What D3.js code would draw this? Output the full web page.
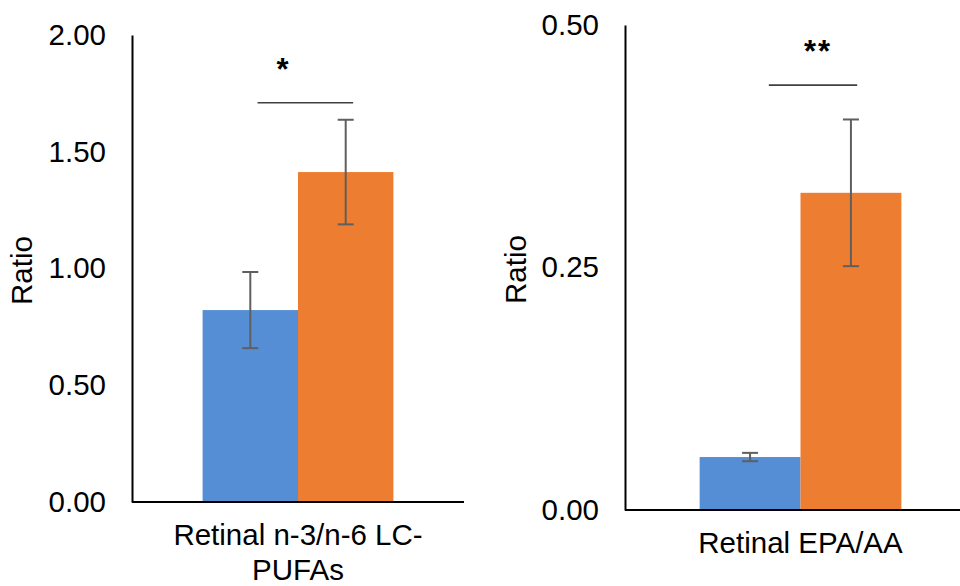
<!DOCTYPE html>
<html>
<head>
<meta charset="utf-8">
<script src="https://cdn.jsdelivr.net/npm/d3@7"></script>
<style>
  html, body { margin: 0; padding: 0; background: #fff; }
  svg { display: block; font-family: "Liberation Sans", Arial, sans-serif; }
</style>
</head>
<body>
<svg id="chart" width="960" height="586"></svg>
<script>
// Category of each panel (one bar pair per panel)
const categories = [["Retinal n-3/n-6 LC-", "PUFAs"], ["Retinal EPA/AA"]];
const groups = ["control", "treated"];
// Means and error (±) for each group, per panel
const controlValues = [0.822, 0.0546];
const controlErrors = [0.163, 0.0043];
const treatedValues = [1.413, 0.327];
const treatedErrors = [0.224, 0.0756];
// Axis domains and ticks, per panel
const yMaxima = [2.0, 0.5];
const yTicks = [[0, 0.5, 1.0, 1.5, 2.0], [0, 0.25, 0.5]];
const yTitles = ["Ratio", "Ratio"];
// Significance bracket height and label, per panel
const sigLevels = [1.71, 0.438];
const sigLabels = ["*", "**"];

// Panel geometry
const panels = [
  { x0: 132, x1: 464, top: 35, bottom: 502, titleX: 22, sigFrom: 0.288, sigTo: 0.789, starAt: 0.424 },
  { x0: 625, x1: 976, top: 25, bottom: 510, titleX: 516, sigFrom: 0.343, sigTo: 0.781, starAt: 0.587 }
];
const colors = { control: "#558ed5", treated: "#ed7d31" };
const fontSize = 29.5;

const svg = d3.select("#chart");

panels.forEach((p, i) => {
  const g = svg.append("g");
  const y = d3.scaleLinear().domain([0, yMaxima[i]]).range([p.bottom, p.top]);
  const xCat = d3.scaleBand().domain([i]).range([p.x0, p.x1]).paddingOuter(0.37).paddingInner(0);
  const xGrp = d3.scaleBand().domain(groups).range([0, xCat.bandwidth()]);
  const left = xCat(i);
  const bw = xCat.bandwidth();

  const rows = [
    { key: "control", v: controlValues[i], e: controlErrors[i] },
    { key: "treated", v: treatedValues[i], e: treatedErrors[i] }
  ];

  // bars
  g.selectAll("rect.bar").data(rows).join("rect")
    .attr("class", "bar")
    .attr("x", d => left + xGrp(d.key))
    .attr("width", xGrp.bandwidth())
    .attr("y", d => y(d.v))
    .attr("height", d => y(0) - y(d.v))
    .attr("fill", d => colors[d.key]);

  // error bars
  const cap = 8;
  const eb = g.selectAll("g.err").data(rows).join("g").attr("class", "err")
    .attr("stroke", "#5f5f5f").attr("stroke-width", 2).attr("fill", "none");
  eb.append("line")
    .attr("x1", d => left + xGrp(d.key) + xGrp.bandwidth() / 2)
    .attr("x2", d => left + xGrp(d.key) + xGrp.bandwidth() / 2)
    .attr("y1", d => y(d.v + d.e)).attr("y2", d => y(d.v - d.e));
  ["top", "bottom"].forEach(end => {
    eb.append("line")
      .attr("x1", d => left + xGrp(d.key) + xGrp.bandwidth() / 2 - cap)
      .attr("x2", d => left + xGrp(d.key) + xGrp.bandwidth() / 2 + cap)
      .attr("y1", d => y(end === "top" ? d.v + d.e : d.v - d.e))
      .attr("y2", d => y(end === "top" ? d.v + d.e : d.v - d.e));
  });

  // y axis
  const yAxis = d3.axisLeft(y).tickValues(yTicks[i]).tickFormat(d3.format(".2f"))
    .tickSize(0).tickPadding(26);
  const ya = g.append("g").attr("transform", `translate(${p.x0},0)`).call(yAxis);
  ya.select(".domain").attr("stroke", "#000").attr("stroke-width", 2);
  ya.selectAll("text").attr("font-size", fontSize).attr("fill", "#000")
    .attr("font-family", "'Liberation Sans', Arial, sans-serif");

  // x axis line
  g.append("line")
    .attr("x1", p.x0).attr("x2", p.x1)
    .attr("y1", y(0)).attr("y2", y(0))
    .attr("stroke", "#000").attr("stroke-width", 2);

  // category label
  const cx = left + bw / 2;
  const lab = g.append("text")
    .attr("x", cx).attr("y", y(0) + 43)
    .attr("text-anchor", "middle").attr("font-size", fontSize).attr("fill", "#000");
  categories[i].forEach((t, k) => {
    lab.append("tspan").attr("x", cx).attr("dy", k === 0 ? 0 : 35).text(t);
  });

  // y title
  g.append("text")
    .attr("transform", `translate(${p.titleX + 10},${(p.top + p.bottom) / 2 + 2}) rotate(-90)`)
    .attr("text-anchor", "middle").attr("font-size", fontSize).attr("fill", "#000")
    .text(yTitles[i]);

  // significance bracket
  const sy = y(sigLevels[i]);
  g.append("line")
    .attr("x1", left + bw * p.sigFrom).attr("x2", left + bw * p.sigTo)
    .attr("y1", sy).attr("y2", sy)
    .attr("stroke", "#404040").attr("stroke-width", 1.6);
  g.append("text")
    .attr("x", left + bw * p.starAt).attr("y", sy - 23)
    .attr("text-anchor", "middle").attr("font-size", 31).attr("font-weight", "bold")
    .attr("fill", "#000").attr("letter-spacing", 2)
    .text(sigLabels[i]);
});
</script>
</body>
</html>
